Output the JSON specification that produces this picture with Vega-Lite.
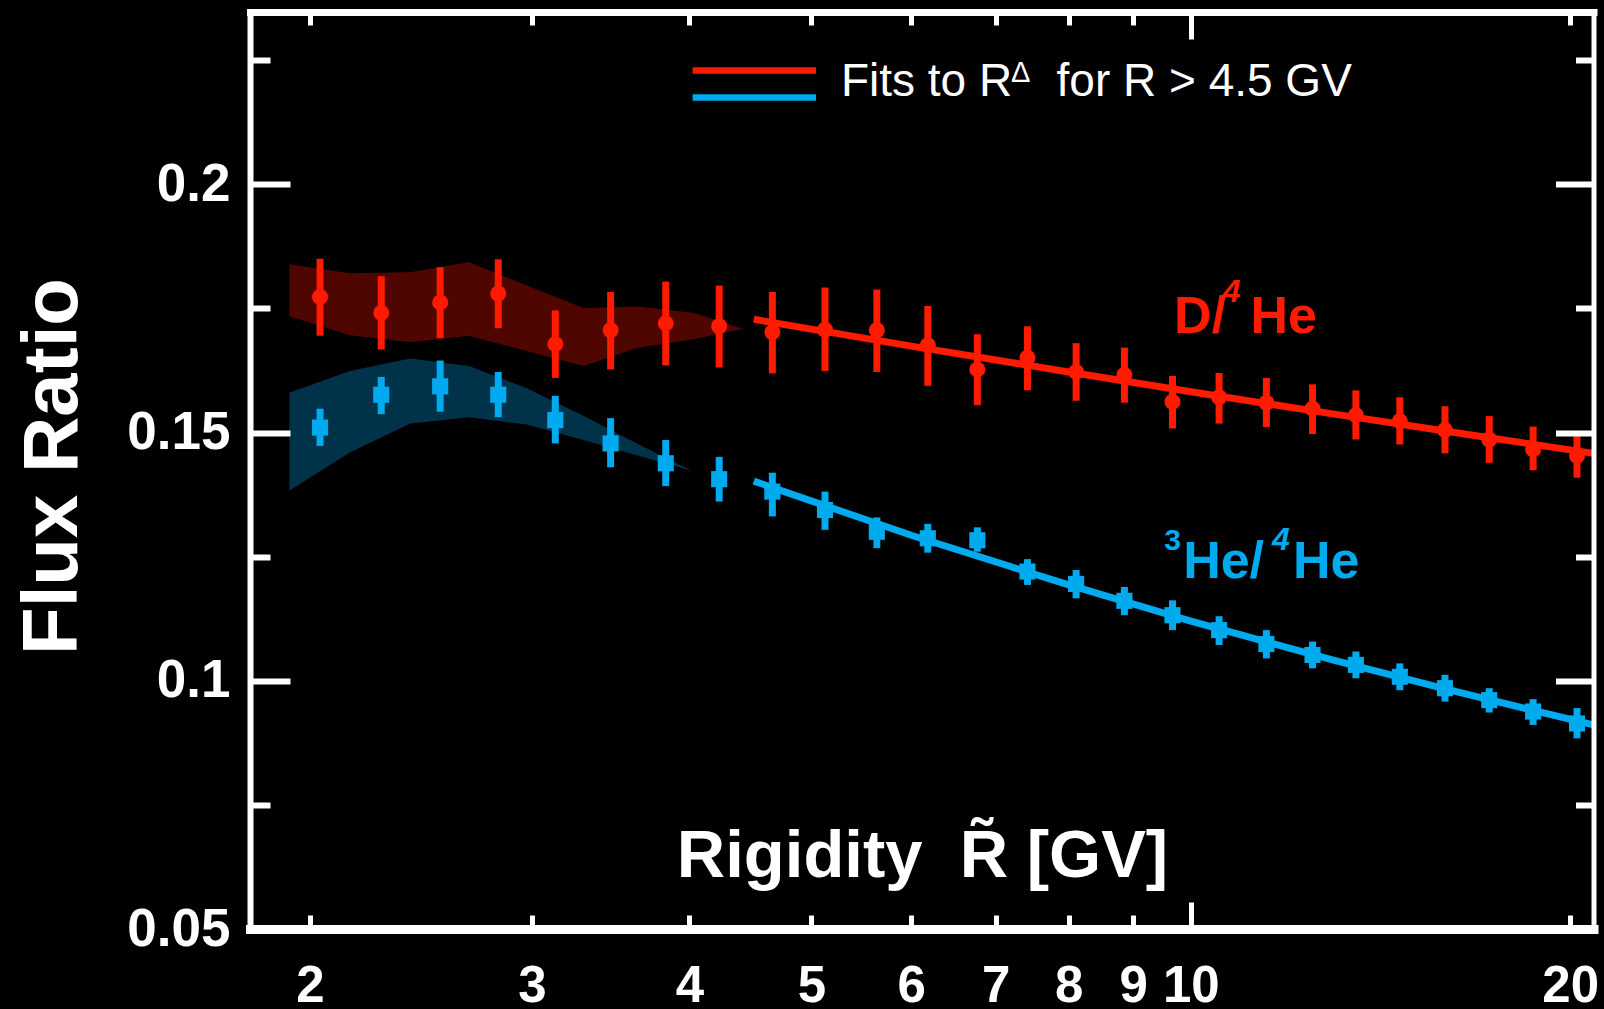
{
  "$schema": "https://vega.github.io/schema/vega-lite/v6.json",
  "width": 1343.5,
  "height": 917,
  "autosize": {"type": "none"},
  "padding": {"left": 250, "top": 12, "right": 10, "bottom": 80},
  "background": "#000000",
  "config": {"view": {"stroke": null}},
  "datasets": {
    "pts": [
      {"s": "D", "R": 2.037, "v": 0.1773, "lo": 0.1695, "hi": 0.1850},
      {"s": "D", "R": 2.278, "v": 0.1741, "lo": 0.1667, "hi": 0.1815},
      {"s": "D", "R": 2.537, "v": 0.1762, "lo": 0.1690, "hi": 0.1833},
      {"s": "D", "R": 2.821, "v": 0.1780, "lo": 0.1710, "hi": 0.1849},
      {"s": "D", "R": 3.131, "v": 0.1678, "lo": 0.1610, "hi": 0.1746},
      {"s": "D", "R": 3.464, "v": 0.1706, "lo": 0.1627, "hi": 0.1783},
      {"s": "D", "R": 3.831, "v": 0.1720, "lo": 0.1635, "hi": 0.1804},
      {"s": "D", "R": 4.224, "v": 0.1714, "lo": 0.1631, "hi": 0.1796},
      {"s": "D", "R": 4.655, "v": 0.1702, "lo": 0.1619, "hi": 0.1783},
      {"s": "D", "R": 5.125, "v": 0.1707, "lo": 0.1624, "hi": 0.1792},
      {"s": "D", "R": 5.634, "v": 0.1706, "lo": 0.1622, "hi": 0.1788},
      {"s": "D", "R": 6.184, "v": 0.1676, "lo": 0.1594, "hi": 0.1755},
      {"s": "D", "R": 6.77, "v": 0.1627, "lo": 0.1555, "hi": 0.1698},
      {"s": "D", "R": 7.419, "v": 0.1651, "lo": 0.1585, "hi": 0.1714},
      {"s": "D", "R": 8.109, "v": 0.1622, "lo": 0.1564, "hi": 0.1680},
      {"s": "D", "R": 8.857, "v": 0.1616, "lo": 0.1560, "hi": 0.1671},
      {"s": "D", "R": 9.67, "v": 0.1562, "lo": 0.1508, "hi": 0.1614},
      {"s": "D", "R": 10.53, "v": 0.1571, "lo": 0.1518, "hi": 0.1620},
      {"s": "D", "R": 11.48, "v": 0.1560, "lo": 0.1511, "hi": 0.1610},
      {"s": "D", "R": 12.49, "v": 0.1548, "lo": 0.1497, "hi": 0.1597},
      {"s": "D", "R": 13.52, "v": 0.1535, "lo": 0.1486, "hi": 0.1585},
      {"s": "D", "R": 14.65, "v": 0.1523, "lo": 0.1476, "hi": 0.1571},
      {"s": "D", "R": 15.91, "v": 0.1505, "lo": 0.1458, "hi": 0.1553},
      {"s": "D", "R": 17.25, "v": 0.1486, "lo": 0.1439, "hi": 0.1533},
      {"s": "D", "R": 18.69, "v": 0.1466, "lo": 0.1424, "hi": 0.1512},
      {"s": "D", "R": 20.25, "v": 0.1453, "lo": 0.1409, "hi": 0.1493},
      {"s": "He3", "R": 2.037, "v": 0.1510, "lo": 0.1473, "hi": 0.1548},
      {"s": "He3", "R": 2.278, "v": 0.1576, "lo": 0.1537, "hi": 0.1612},
      {"s": "He3", "R": 2.537, "v": 0.1593, "lo": 0.1542, "hi": 0.1645},
      {"s": "He3", "R": 2.821, "v": 0.1576, "lo": 0.1531, "hi": 0.1622},
      {"s": "He3", "R": 3.131, "v": 0.1525, "lo": 0.1478, "hi": 0.1574},
      {"s": "He3", "R": 3.464, "v": 0.1478, "lo": 0.1430, "hi": 0.1529},
      {"s": "He3", "R": 3.831, "v": 0.1438, "lo": 0.1392, "hi": 0.1485},
      {"s": "He3", "R": 4.224, "v": 0.1406, "lo": 0.1361, "hi": 0.1451},
      {"s": "He3", "R": 4.655, "v": 0.1381, "lo": 0.1331, "hi": 0.1419},
      {"s": "He3", "R": 5.125, "v": 0.1344, "lo": 0.1304, "hi": 0.1381},
      {"s": "He3", "R": 5.634, "v": 0.1300, "lo": 0.1267, "hi": 0.1329},
      {"s": "He3", "R": 6.184, "v": 0.1287, "lo": 0.1258, "hi": 0.1316},
      {"s": "He3", "R": 6.77, "v": 0.1283, "lo": 0.1260, "hi": 0.1309},
      {"s": "He3", "R": 7.419, "v": 0.1220, "lo": 0.1193, "hi": 0.1245},
      {"s": "He3", "R": 8.109, "v": 0.1195, "lo": 0.1166, "hi": 0.1223},
      {"s": "He3", "R": 8.857, "v": 0.1161, "lo": 0.1132, "hi": 0.1189},
      {"s": "He3", "R": 9.67, "v": 0.1132, "lo": 0.1102, "hi": 0.1162},
      {"s": "He3", "R": 10.53, "v": 0.1102, "lo": 0.1072, "hi": 0.1130},
      {"s": "He3", "R": 11.48, "v": 0.1074, "lo": 0.1045, "hi": 0.1102},
      {"s": "He3", "R": 12.49, "v": 0.1052, "lo": 0.1025, "hi": 0.1079},
      {"s": "He3", "R": 13.52, "v": 0.1032, "lo": 0.1005, "hi": 0.1059},
      {"s": "He3", "R": 14.65, "v": 0.1008, "lo": 0.0981, "hi": 0.1035},
      {"s": "He3", "R": 15.91, "v": 0.0985, "lo": 0.0958, "hi": 0.1012},
      {"s": "He3", "R": 17.25, "v": 0.0961, "lo": 0.0936, "hi": 0.0985},
      {"s": "He3", "R": 18.69, "v": 0.0938, "lo": 0.0911, "hi": 0.0963},
      {"s": "He3", "R": 20.25, "v": 0.0914, "lo": 0.0884, "hi": 0.0945}
    ],
    "band": [
      {"s": "D", "R": 1.926, "lo": 0.1734, "hi": 0.1839},
      {"s": "D", "R": 2.151, "lo": 0.1696, "hi": 0.1821},
      {"s": "D", "R": 2.402, "lo": 0.1682, "hi": 0.1823},
      {"s": "D", "R": 2.674, "lo": 0.1695, "hi": 0.1843},
      {"s": "D", "R": 2.972, "lo": 0.1664, "hi": 0.1796},
      {"s": "D", "R": 3.296, "lo": 0.1634, "hi": 0.1751},
      {"s": "D", "R": 3.634, "lo": 0.1670, "hi": 0.1754},
      {"s": "D", "R": 4.03, "lo": 0.1688, "hi": 0.1741},
      {"s": "D", "R": 4.415, "lo": 0.1709, "hi": 0.1709},
      {"s": "He3", "R": 1.926, "lo": 0.1383, "hi": 0.1580},
      {"s": "He3", "R": 2.151, "lo": 0.1460, "hi": 0.1624},
      {"s": "He3", "R": 2.402, "lo": 0.1518, "hi": 0.1649},
      {"s": "He3", "R": 2.674, "lo": 0.1531, "hi": 0.1634},
      {"s": "He3", "R": 2.972, "lo": 0.1516, "hi": 0.1589},
      {"s": "He3", "R": 3.296, "lo": 0.1485, "hi": 0.1534},
      {"s": "He3", "R": 3.634, "lo": 0.1454, "hi": 0.1478},
      {"s": "He3", "R": 4.018, "lo": 0.1423, "hi": 0.1423}
    ],
    "fit": [
      {"s": "D", "R": 4.5, "v": 0.1728},
      {"s": "D", "R": 6, "v": 0.1674},
      {"s": "D", "R": 8, "v": 0.1622},
      {"s": "D", "R": 10, "v": 0.1582},
      {"s": "D", "R": 13, "v": 0.1537},
      {"s": "D", "R": 16, "v": 0.1502},
      {"s": "D", "R": 20.87, "v": 0.1458},
      {"s": "He3", "R": 4.5, "v": 0.1402},
      {"s": "He3", "R": 6, "v": 0.1293},
      {"s": "He3", "R": 8, "v": 0.1193},
      {"s": "He3", "R": 10, "v": 0.1120},
      {"s": "He3", "R": 13, "v": 0.1041},
      {"s": "He3", "R": 16, "v": 0.0982},
      {"s": "He3", "R": 20.87, "v": 0.0911}
    ]
  },
  "resolve": {"axis": {"x": "independent", "y": "independent"}},
  "layer": [
    {
      "data": {"name": "band"},
      "transform": [{"filter": "datum.s == 'D'"}],
      "mark": {"type": "area", "color": "#4f0600", "opacity": 1},
      "encoding": {
        "x": {"field": "R", "type": "quantitative", "scale": {"type": "log", "domain": [1.7923, 20.87], "nice": false},
          "axis": {"orient": "bottom", "values": [2, 3, 4, 5, 6, 7, 8, 9, 10, 20], "format": "~g", "ticks": false, "grid": false,
            "domain": true, "domainColor": "#ffffff", "domainWidth": 9, "domainCap": "square",
            "labelColor": "#ffffff", "labelFont": "Liberation Sans", "labelFontWeight": "bold", "labelFontSize": 51,
            "labelPadding": 72, "labelBaseline": "alphabetic", "labelAlign": "center", "labelFlush": false, "labelOverlap": false, "labelBound": false,
            "title": "Rigidity\u00a0 R\u0303 [GV]", "titleColor": "#ffffff", "titleFont": "Liberation Sans", "titleFontWeight": "bold", "titleFontSize": 67,
            "titleX": 672, "titleY": -53, "titleAlign": "center", "titleBaseline": "alphabetic", "titleAnchor": null, "zindex": 1}},
        "y": {"field": "lo", "type": "quantitative", "scale": {"domain": [0.05, 0.2347], "nice": false, "zero": false},
          "axis": {"orient": "left", "values": [0.05, 0.1, 0.15, 0.2], "format": "~g", "ticks": false, "grid": false,
            "domain": true, "domainColor": "#ffffff", "domainWidth": 6, "domainCap": "square",
            "labelColor": "#ffffff", "labelFont": "Liberation Sans", "labelFontWeight": "bold", "labelFontSize": 53,
            "labelPadding": 20, "labelAlign": "right", "labelBaseline": "middle", "labelFlush": false, "labelOverlap": false, "labelBound": false,
            "title": "Flux Ratio", "titleColor": "#ffffff", "titleFont": "Liberation Sans", "titleFontWeight": "bold", "titleFontSize": 78,
            "titleAngle": -90, "titleX": -174, "titleY": 454, "titleAlign": "center", "titleBaseline": "alphabetic", "titleAnchor": null, "zindex": 1}},
        "y2": {"field": "hi"}
      }
    },
    {
      "data": {"name": "band"},
      "transform": [{"filter": "datum.s == 'He3'"}],
      "mark": {"type": "area", "color": "#00324a", "opacity": 1},
      "encoding": {
        "x": {"field": "R", "type": "quantitative", "scale": {"type": "log", "domain": [1.7923, 20.87], "nice": false},
          "axis": {"orient": "bottom", "values": [2, 3, 4, 5, 6, 7, 8, 9, 20], "labels": false, "domain": false, "grid": false, "ticks": true,
            "tickColor": "#ffffff", "tickWidth": 5, "tickSize": -14, "title": null, "zindex": 1}},
        "y": {"field": "lo", "type": "quantitative", "scale": {"domain": [0.05, 0.2347], "nice": false, "zero": false},
          "axis": {"orient": "left", "values": [0.1, 0.15, 0.2], "labels": false, "domain": false, "grid": false, "ticks": true,
            "tickColor": "#ffffff", "tickWidth": 6, "tickSize": -40, "title": null, "zindex": 1}},
        "y2": {"field": "hi"}
      }
    },
    {
      "data": {"name": "fit"},
      "mark": {"type": "line", "strokeWidth": 7},
      "encoding": {
        "x": {"field": "R", "type": "quantitative", "scale": {"type": "log", "domain": [1.7923, 20.87], "nice": false}, "axis": null},
        "y": {"field": "v", "type": "quantitative", "scale": {"domain": [0.05, 0.2347], "nice": false, "zero": false}, "axis": null},
        "color": {"field": "s", "type": "nominal", "scale": {"domain": ["D", "He3"], "range": ["#ff1a00", "#00aaee"]}, "legend": null}
      }
    },
    {
      "data": {"name": "pts"},
      "transform": [{"filter": "datum.s == 'D'"}],
      "mark": {"type": "rule", "color": "#ff1a00", "strokeWidth": 7},
      "encoding": {
        "x": {"field": "R", "type": "quantitative", "scale": {"type": "log", "domain": [1.7923, 20.87], "nice": false},
          "axis": {"orient": "bottom", "values": [10], "labels": false, "domain": false, "grid": false, "ticks": true,
            "tickColor": "#ffffff", "tickWidth": 5, "tickSize": -27, "title": null, "zindex": 1}},
        "y": {"field": "lo", "type": "quantitative", "scale": {"domain": [0.05, 0.2347], "nice": false, "zero": false},
          "axis": {"orient": "left", "values": [0.075, 0.125, 0.175, 0.225], "labels": false, "domain": false, "grid": false, "ticks": true,
            "tickColor": "#ffffff", "tickWidth": 6, "tickSize": -20, "title": null, "zindex": 1}},
        "y2": {"field": "hi"}
      }
    },
    {
      "data": {"name": "pts"},
      "transform": [{"filter": "datum.s == 'He3'"}],
      "mark": {"type": "rule", "color": "#00aaee", "strokeWidth": 7},
      "encoding": {
        "x": {"field": "R", "type": "quantitative", "scale": {"type": "log", "domain": [1.7923, 20.87], "nice": false},
          "axis": {"orient": "top", "values": [2, 3, 4, 5, 6, 7, 8, 9, 20], "labels": false, "domain": true, "domainColor": "#ffffff", "domainWidth": 7, "domainCap": "square",
            "grid": false, "ticks": true, "tickColor": "#ffffff", "tickWidth": 5, "tickSize": -13, "title": null, "zindex": 1}},
        "y": {"field": "lo", "type": "quantitative", "scale": {"domain": [0.05, 0.2347], "nice": false, "zero": false},
          "axis": {"orient": "right", "values": [0.1, 0.15, 0.2], "labels": false, "domain": true, "domainColor": "#ffffff", "domainWidth": 5, "domainCap": "square",
            "grid": false, "ticks": true, "tickColor": "#ffffff", "tickWidth": 6, "tickSize": -38, "title": null, "zindex": 1}},
        "y2": {"field": "hi"}
      }
    },
    {
      "data": {"name": "pts"},
      "transform": [{"filter": "datum.s == 'D'"}],
      "mark": {"type": "point", "shape": "circle", "filled": true, "size": 256, "color": "#ff1a00", "opacity": 1},
      "encoding": {
        "x": {"field": "R", "type": "quantitative", "scale": {"type": "log", "domain": [1.7923, 20.87], "nice": false},
          "axis": {"orient": "top", "values": [10], "labels": false, "domain": false, "grid": false, "ticks": true,
            "tickColor": "#ffffff", "tickWidth": 5, "tickSize": -27, "title": null, "zindex": 1}},
        "y": {"field": "v", "type": "quantitative", "scale": {"domain": [0.05, 0.2347], "nice": false, "zero": false},
          "axis": {"orient": "right", "values": [0.075, 0.125, 0.175, 0.225], "labels": false, "domain": false, "grid": false, "ticks": true,
            "tickColor": "#ffffff", "tickWidth": 6, "tickSize": -18, "title": null, "zindex": 1}}
      }
    },
    {
      "data": {"name": "pts"},
      "transform": [{"filter": "datum.s == 'He3'"}],
      "mark": {"type": "point", "shape": "square", "filled": true, "size": 260, "color": "#00aaee", "opacity": 1},
      "encoding": {
        "x": {"field": "R", "type": "quantitative", "scale": {"type": "log", "domain": [1.7923, 20.87], "nice": false}, "axis": null},
        "y": {"field": "v", "type": "quantitative", "scale": {"domain": [0.05, 0.2347], "nice": false, "zero": false}, "axis": null}
      }
    },
    {
      "data": {"values": [{}]},
      "mark": {"type": "rule", "color": "#ff1a00", "strokeWidth": 6.5},
      "encoding": {
        "x": {"datum": 4.024, "type": "quantitative", "scale": {"type": "log", "domain": [1.7923, 20.87], "nice": false}, "axis": null},
        "x2": {"datum": 5.041},
        "y": {"datum": 0.2229, "type": "quantitative", "scale": {"domain": [0.05, 0.2347], "nice": false, "zero": false}, "axis": null}
      }
    },
    {
      "data": {"values": [{}]},
      "mark": {"type": "rule", "color": "#00aaee", "strokeWidth": 6.5},
      "encoding": {
        "x": {"datum": 4.024, "type": "quantitative", "scale": {"type": "log", "domain": [1.7923, 20.87], "nice": false}, "axis": null},
        "x2": {"datum": 5.041},
        "y": {"datum": 0.2175, "type": "quantitative", "scale": {"domain": [0.05, 0.2347], "nice": false, "zero": false}, "axis": null}
      }
    },
    {
      "data": {"values": [{}]},
      "mark": {"type": "text", "text": "Fits to R", "align": "left", "baseline": "alphabetic", "font": "Liberation Sans", "fontSize": 46, "color": "#ffffff"},
      "encoding": {
        "x": {"datum": 5.276, "type": "quantitative", "scale": {"type": "log", "domain": [1.7923, 20.87], "nice": false}, "axis": null},
        "y": {"datum": 0.2177, "type": "quantitative", "scale": {"domain": [0.05, 0.2347], "nice": false, "zero": false}, "axis": null}
      }
    },
    {
      "data": {"values": [{}]},
      "mark": {"type": "text", "text": "Δ", "align": "left", "baseline": "alphabetic", "font": "Liberation Sans", "fontSize": 29, "color": "#ffffff"},
      "encoding": {
        "x": {"datum": 7.2, "type": "quantitative", "scale": {"type": "log", "domain": [1.7923, 20.87], "nice": false}, "axis": null},
        "y": {"datum": 0.2206, "type": "quantitative", "scale": {"domain": [0.05, 0.2347], "nice": false, "zero": false}, "axis": null}
      }
    },
    {
      "data": {"values": [{}]},
      "mark": {"type": "text", "text": "for R > 4.5 GV", "align": "left", "baseline": "alphabetic", "font": "Liberation Sans", "fontSize": 46, "color": "#ffffff"},
      "encoding": {
        "x": {"datum": 7.824, "type": "quantitative", "scale": {"type": "log", "domain": [1.7923, 20.87], "nice": false}, "axis": null},
        "y": {"datum": 0.2177, "type": "quantitative", "scale": {"domain": [0.05, 0.2347], "nice": false, "zero": false}, "axis": null}
      }
    },
    {
      "data": {"values": [{}]},
      "mark": {"type": "text", "text": "D/", "align": "left", "baseline": "alphabetic", "font": "Liberation Sans", "fontWeight": "bold", "fontSize": 52, "color": "#ff1a00"},
      "encoding": {
        "x": {"datum": 9.699, "type": "quantitative", "scale": {"type": "log", "domain": [1.7923, 20.87], "nice": false}, "axis": null},
        "y": {"datum": 0.1700, "type": "quantitative", "scale": {"domain": [0.05, 0.2347], "nice": false, "zero": false}, "axis": null}
      }
    },
    {
      "data": {"values": [{}]},
      "mark": {"type": "text", "text": "4", "align": "left", "baseline": "alphabetic", "font": "Liberation Sans", "fontWeight": "bold", "fontStyle": "italic", "fontSize": 32, "color": "#ff1a00"},
      "encoding": {
        "x": {"datum": 10.6, "type": "quantitative", "scale": {"type": "log", "domain": [1.7923, 20.87], "nice": false}, "axis": null},
        "y": {"datum": 0.1763, "type": "quantitative", "scale": {"domain": [0.05, 0.2347], "nice": false, "zero": false}, "axis": null}
      }
    },
    {
      "data": {"values": [{}]},
      "mark": {"type": "text", "text": "He", "align": "left", "baseline": "alphabetic", "font": "Liberation Sans", "fontWeight": "bold", "fontSize": 52, "color": "#ff1a00"},
      "encoding": {
        "x": {"datum": 11.15, "type": "quantitative", "scale": {"type": "log", "domain": [1.7923, 20.87], "nice": false}, "axis": null},
        "y": {"datum": 0.1700, "type": "quantitative", "scale": {"domain": [0.05, 0.2347], "nice": false, "zero": false}, "axis": null}
      }
    },
    {
      "data": {"values": [{}]},
      "mark": {"type": "text", "text": "3", "align": "left", "baseline": "alphabetic", "font": "Liberation Sans", "fontWeight": "bold", "fontSize": 30, "color": "#00aaee"},
      "encoding": {
        "x": {"datum": 9.524, "type": "quantitative", "scale": {"type": "log", "domain": [1.7923, 20.87], "nice": false}, "axis": null},
        "y": {"datum": 0.1263, "type": "quantitative", "scale": {"domain": [0.05, 0.2347], "nice": false, "zero": false}, "axis": null}
      }
    },
    {
      "data": {"values": [{}]},
      "mark": {"type": "text", "text": "He/", "align": "left", "baseline": "alphabetic", "font": "Liberation Sans", "fontWeight": "bold", "fontSize": 52, "color": "#00aaee"},
      "encoding": {
        "x": {"datum": 9.86, "type": "quantitative", "scale": {"type": "log", "domain": [1.7923, 20.87], "nice": false}, "axis": null},
        "y": {"datum": 0.1206, "type": "quantitative", "scale": {"domain": [0.05, 0.2347], "nice": false, "zero": false}, "axis": null}
      }
    },
    {
      "data": {"values": [{}]},
      "mark": {"type": "text", "text": "4", "align": "left", "baseline": "alphabetic", "font": "Liberation Sans", "fontWeight": "bold", "fontStyle": "italic", "fontSize": 32, "color": "#00aaee"},
      "encoding": {
        "x": {"datum": 11.6, "type": "quantitative", "scale": {"type": "log", "domain": [1.7923, 20.87], "nice": false}, "axis": null},
        "y": {"datum": 0.1263, "type": "quantitative", "scale": {"domain": [0.05, 0.2347], "nice": false, "zero": false}, "axis": null}
      }
    },
    {
      "data": {"values": [{}]},
      "mark": {"type": "text", "text": "He", "align": "left", "baseline": "alphabetic", "font": "Liberation Sans", "fontWeight": "bold", "fontSize": 52, "color": "#00aaee"},
      "encoding": {
        "x": {"datum": 12.05, "type": "quantitative", "scale": {"type": "log", "domain": [1.7923, 20.87], "nice": false}, "axis": null},
        "y": {"datum": 0.1206, "type": "quantitative", "scale": {"domain": [0.05, 0.2347], "nice": false, "zero": false}, "axis": null}
      }
    }
  ]
}
